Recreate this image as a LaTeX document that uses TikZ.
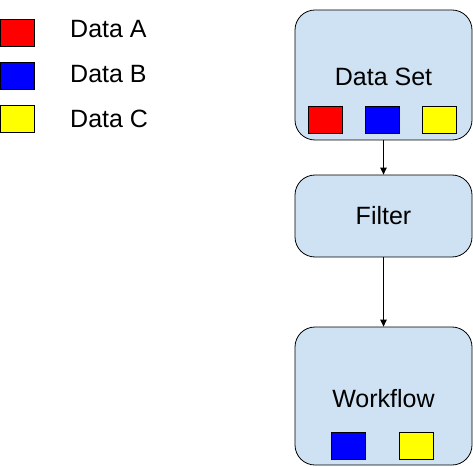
\documentclass[tikz,border=0pt]{standalone}
\usepackage{fontspec}
\setmainfont{Liberation Sans}
\usetikzlibrary{arrows.meta}
\definecolor{boxblue}{HTML}{CFE2F3}
\definecolor{sqred}{HTML}{FF0000}
\definecolor{sqblue}{HTML}{0000FF}
\definecolor{sqyellow}{HTML}{FFFF00}
\tikzset{
  stagebox/.style={draw, line width=0.8bp, fill=boxblue, rounded corners=20bp,
    minimum width=177bp, inner sep=0pt},
  chip/.style={draw, line width=0.8bp, minimum width=34bp, minimum height=27bp, inner sep=0pt},
  bigtext/.style={font=\fontsize{25bp}{30bp}\selectfont, inner sep=0pt, anchor=base},
  flow/.style={-{Triangle[length=7bp,width=6.5bp]}, line width=0.9bp}
}
\begin{document}
\begin{tikzpicture}[x=1bp,y=-1bp]
\useasboundingbox (0,0) rectangle (473,467);
% legend
\node [chip, fill=sqred] (legA) at (17,32.5) {};
\node [chip, fill=sqblue] (legB) at (17,76) {};
\node [chip, fill=sqyellow] (legC) at (17,119) {};
\node [bigtext, anchor=base west] (txtA) at (70,38) {Data A};
\node [bigtext, anchor=base west] (txtB) at (70,83) {Data B};
\node [bigtext, anchor=base west] (txtC) at (70,128) {Data C};
% stages
\node [stagebox, minimum height=130bp] (dataset) at (383.5,75) {};
\node [stagebox, minimum height=82bp] (filter) at (383.5,216) {};
\node [stagebox, minimum height=138bp] (workflow) at (383.5,396) {};
\node [bigtext] (dataset_t) at (383.5,86) {Data Set};
\node [bigtext] (filter_t) at (383.5,225) {Filter};
\node [bigtext] (workflow_t) at (383.5,407) {Workflow};
% chips inside the stages
\node [chip, fill=sqred] (setA) at (325,119.5) {};
\node [chip, fill=sqblue] (setB) at (382.5,119.5) {};
\node [chip, fill=sqyellow] (setC) at (439.5,119.5) {};
\node [chip, fill=sqblue] (wfB) at (348.5,445.5) {};
\node [chip, fill=sqyellow] (wfC) at (416.5,445.5) {};
% arrows
\draw [flow] (dataset) -- (filter);
\draw [flow] (filter) -- (workflow);
\end{tikzpicture}
\end{document}
